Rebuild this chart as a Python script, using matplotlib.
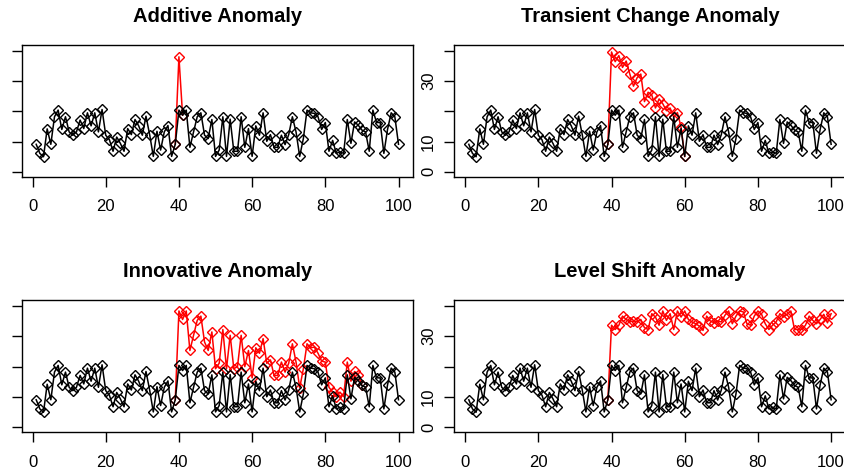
import matplotlib
matplotlib.use("Agg")
import matplotlib.pyplot as plt
import numpy as np

plt.rcParams['font.family'] = ['Liberation Sans', 'DejaVu Sans']

# base series (t = 1..100)
base = [9.1, 6.1, 5.0, 14.2, 9.1, 18.2, 20.4, 14.0, 18.2, 13.2,
        12.1, 13.2, 17.1, 14.3, 19.5, 15.2, 19.5, 13.2, 20.6, 12.1,
        10.6, 6.8, 11.5, 9.4, 6.8, 14.3, 12.3, 17.3, 15.2, 12.1,
        18.4, 12.3, 5.1, 13.4, 7.2, 13.2, 15.3, 5.1, 9.1, 20.4,
        18.7, 20.4, 8.1, 13.2, 18.2, 19.5, 12.1, 11.0, 17.3, 5.1,
        7.2, 18.2, 5.1, 17.4, 6.8, 6.8, 18.2, 8.1, 14.3, 5.1,
        15.2, 12.1, 19.5, 10.1, 12.3, 8.1, 8.1, 12.1, 9.0, 12.3,
        18.2, 13.2, 5.1, 11.0, 20.4, 19.5, 19.3, 18.2, 14.0, 16.3,
        6.8, 10.4, 6.1, 6.6, 6.1, 17.3, 9.4, 16.5, 15.4, 13.8,
        13.2, 6.8, 20.4, 16.3, 16.3, 6.1, 14.0, 19.5, 18.2, 9.1]

# anomalous values, starting at t = 40
additive = [38.0]
transient = [39.6, 36.4, 38.4, 34.5, 36.6, 32.3, 28.3, 31.1, 32.3, 23.2,
             26.3, 25.4, 21.1, 24.1, 22.5, 20.2, 21.1, 18.1, 19.6, 14.8]
innovative = [38.3, 35.5, 38.3, 25.3, 30.3, 35.2, 36.6, 28.1, 25.3, 31.4,
              19.3, 21.1, 32.2, 19.3, 30.3, 19.3, 20.0, 30.3, 20.0, 25.3,
              16.3, 26.2, 24.4, 29.2, 21.1, 22.2, 17.1, 17.1, 21.5, 18.2,
              21.1, 27.5, 21.5, 13.0, 19.3, 27.5, 26.2, 26.4, 24.4, 21.8,
              21.5, 13.2, 11.6, 10.1, 11.6, 10.1, 21.5, 15.2, 18.4, 17.4]
level_shift = [33.6, 32.2, 33.6, 36.6, 35.5, 34.7, 35.0, 34.7, 35.5, 32.8,
               32.2, 37.4, 36.3, 33.6, 38.3, 35.2, 37.4, 32.2, 38.3, 36.3,
               38.3, 35.5, 34.7, 34.1, 33.3, 31.9, 36.6, 35.0, 34.4, 35.0,
               34.7, 36.9, 38.3, 34.1, 36.6, 38.3, 38.0, 34.1, 33.6, 36.6,
               38.3, 37.2, 34.1, 32.2, 33.6, 34.7, 37.4, 36.3, 37.2, 38.3,
               32.2, 32.2, 32.2, 33.6, 36.6, 35.2, 34.1, 35.5, 37.2, 34.4,
               37.4]

titles = ['Additive Anomaly', 'Transient Change Anomaly',
          'Innovative Anomaly', 'Level Shift Anomaly']
start = 40

t = np.arange(1, len(base) + 1)
base = np.array(base)

fig = plt.figure(figsize=(8.44, 4.74), dpi=100)
W, H = 844, 474

# panel boxes in pixels: (left, top, right, bottom)
boxes = [(21.7, 45, 413, 176.7), (454.3, 45, 845.6, 176.7),
         (21.7, 300, 413, 432.3), (454.3, 300, 845.6, 432.3)]


def panel(box, title, anom, left_col):
    l, tp, r, b = box
    ax = fig.add_axes([l / W, 1 - b / H, (r - l) / W, (b - tp) / H])
    red = base.copy()
    i0 = start - 1
    i1 = i0 + len(anom)
    red[i0:i1] = anom
    # only the changed part (plus its neighbours) of the anomaly series
    lo, hi = i0 - 1, min(i1 + 1, len(base))
    ax.plot(t[lo:hi], red[lo:hi], color='red', lw=1.1, marker='D', ms=5,
            mfc='none', mec='red', mew=1.0)
    ax.plot(t, base, color='black', lw=1.1, marker='D', ms=5,
            mfc='none', mec='black', mew=1.0)
    ax.set_xlim(-2.96, 103.96)
    ax.set_ylim(-1.6, 41.9)
    ax.set_xticks([0, 20, 40, 60, 80, 100])
    ax.set_yticks([0, 10, 20, 30, 40])
    ax.set_yticklabels(['0', '10', '', '30', ''], rotation=90, va='center')
    ax.tick_params(axis='both', direction='out', length=7.2, width=1,
                   labelsize=12)
    ax.tick_params(axis='x', pad=9)
    ax.tick_params(axis='y', pad=6)
    if left_col:
        # labels of the left panels fall outside the picture
        ax.tick_params(axis='y', labelleft=False)
    for s in ax.spines.values():
        s.set_linewidth(1)
    ax.set_title(title, fontsize=14.5, fontweight='bold', pad=16.5)
    return ax


for i, (box, title, anom) in enumerate(zip(boxes, titles,
                                           [additive, transient, innovative, level_shift])):
    panel(box, title, anom, i % 2 == 0)

fig.savefig('out.png', dpi=100)
